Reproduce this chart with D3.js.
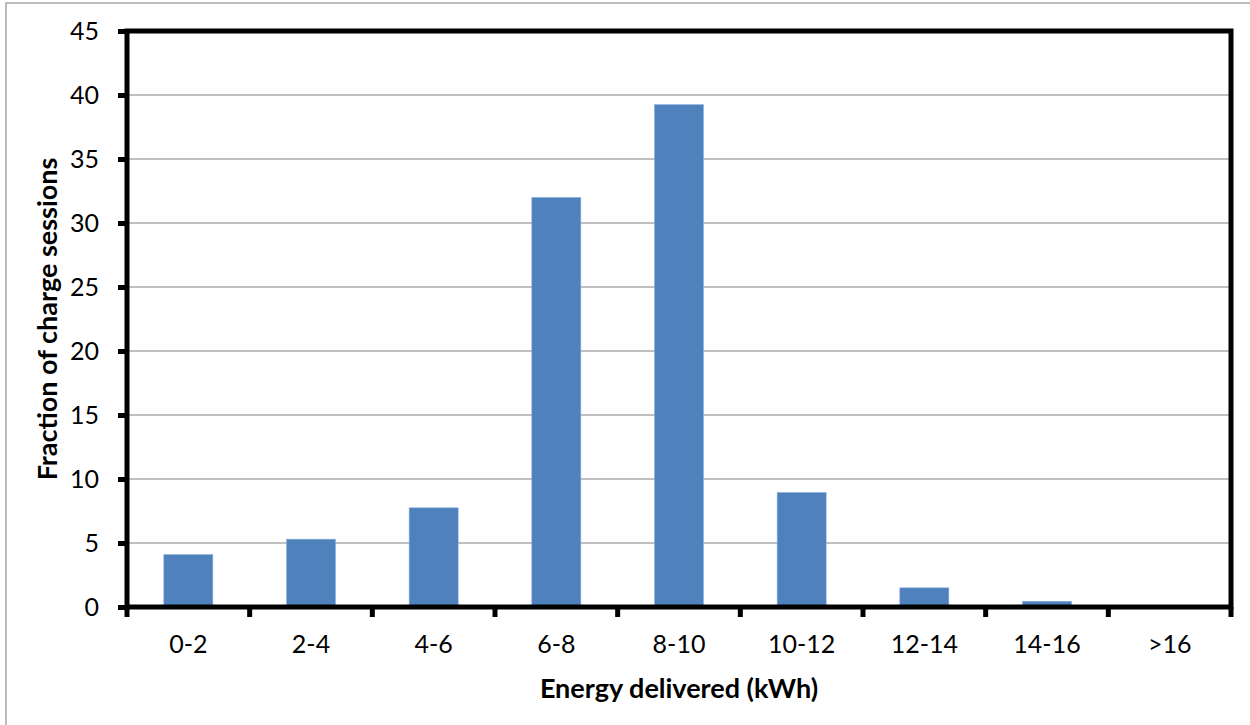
<!DOCTYPE html>
<html><head><meta charset="utf-8">
<script src="https://cdn.jsdelivr.net/npm/d3@7"></script>
<style>body{margin:0;background:#fff}svg{display:block}</style>
</head><body>
<script>
const categories = ["0-2","2-4","4-6","6-8","8-10","10-12","12-14","14-16",">16"];
const values = [4.1, 5.3, 7.75, 32.0, 39.25, 8.95, 1.5, 0.45, 0];
const yTicks = [0,5,10,15,20,25,30,35,40,45];
const xTitle = "Energy delivered (kWh)";
const yTitle = "Fraction of charge sessions";

const W = 1250, H = 725;
const m = {left:127, right:1231, top:31, bottom:607};
const font = "Lato, 'Open Sans', sans-serif";

const svg = d3.select("body").append("svg").attr("width", W).attr("height", H);
svg.append("rect").attr("x",6).attr("y",3).attr("width",W).attr("height",H)
  .attr("fill","#fff").attr("stroke","#a6a6a6").attr("stroke-width",1.5);

const x = d3.scaleBand().domain(categories).range([m.left, m.right]).paddingInner(0.6).paddingOuter(0.3);
const xb = d3.scaleBand().domain(categories).range([m.left, m.right]);
const y = d3.scaleLinear().domain([0,45]).range([m.bottom, m.top]);

// gridlines
svg.append("g").selectAll("line").data(yTicks.filter(d=>d>0 && d<45)).join("line")
  .attr("x1", m.left).attr("x2", m.right).attr("y1", d=>y(d)).attr("y2", d=>y(d))
  .attr("stroke","#c0c0c0").attr("stroke-width",2);

// bars
svg.append("g").selectAll("rect").data(values).join("rect")
  .attr("x",(d,i)=>x(categories[i])).attr("width",x.bandwidth())
  .attr("y",d=>y(d)).attr("height",d=>m.bottom-y(d))
  .attr("fill","#4f81bd").attr("stroke","#8eb4e3").attr("stroke-width",0.6);

// y axis
const yAxis = d3.axisLeft(y).tickValues(yTicks).tickSize(9).tickPadding(19);
const gy = svg.append("g").attr("transform",`translate(${m.left},0)`).call(yAxis);
gy.select(".domain").remove();
gy.selectAll(".tick line").attr("stroke","#000").attr("stroke-width",5);
gy.selectAll(".tick text").attr("font-family",font).attr("font-size",25).attr("fill","#000").attr("dy","0.34em");

// x axis ticks at boundaries
const bounds = categories.map(c=>xb(c)).concat([m.right]);
svg.append("g").selectAll("line").data(bounds).join("line")
  .attr("x1",d=>d).attr("x2",d=>d).attr("y1",m.bottom).attr("y2",m.bottom+10)
  .attr("stroke","#000").attr("stroke-width",5);
const xAxis = d3.axisBottom(xb).tickSize(0).tickPadding(28);
const gx = svg.append("g").attr("transform",`translate(0,${m.bottom})`).call(xAxis);
gx.select(".domain").remove();
gx.selectAll(".tick text").attr("font-family",font).attr("font-size",25).attr("fill","#000");

// plot frame
svg.append("rect").attr("x",m.left).attr("y",m.top).attr("width",m.right-m.left).attr("height",m.bottom-m.top)
  .attr("fill","none").attr("stroke","#000").attr("stroke-width",5);

// titles
svg.append("text").attr("x",(m.left+m.right)/2 - 0).attr("y",698).attr("text-anchor","middle")
  .attr("font-family",font).attr("font-weight","bold").attr("font-size",27).text(xTitle);
svg.append("text").attr("transform",`translate(57,${(m.top+m.bottom)/2}) rotate(-90)`).attr("text-anchor","middle")
  .attr("font-family",font).attr("font-weight","bold").attr("font-size",27).text(yTitle);
</script>
</body></html>
